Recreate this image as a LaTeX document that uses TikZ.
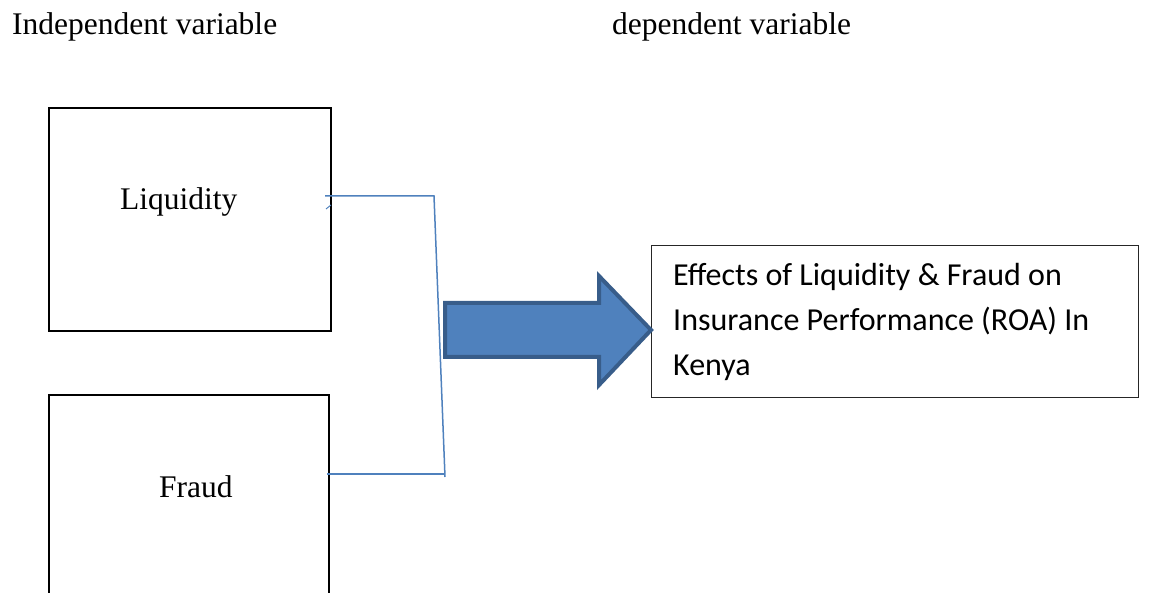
\documentclass[tikz,border=0pt]{standalone}
\usepackage{fontspec}
\setmainfont{Liberation Serif}
\newfontfamily\calib{Carlito}
\definecolor{offblue}{HTML}{4F81BD}
\definecolor{offblueD}{HTML}{385D8A}
\begin{document}
\begin{tikzpicture}[x=1pt,y=-1pt,
  varbox/.style={draw=black,line width=2pt,inner sep=0pt,anchor=north west},
  serif/.style={font=\fontsize{31.5}{38}\selectfont,inner sep=0pt,anchor=base west},
  link/.style={draw=offblue,line width=1.5pt}]
\useasboundingbox (0,0) rectangle (1151,593);
\clip (0,0) rectangle (1151,593);
\node[serif] (indep) at (12,35) {Independent variable};
\node[serif] (dep) at (612,35) {dependent variable};
\node[varbox,minimum width=282pt,minimum height=223pt] (liq) at (48,107) {};
\node[varbox,minimum width=280pt,minimum height=260pt] (fraud) at (48,394) {};
\node[serif] (liqt) at (120,210) {Liquidity};
\node[serif] (fraudt) at (159,497) {Fraud};
\node[draw=black!85,line width=1pt,inner sep=0pt,anchor=north west,minimum width=487pt,minimum height=152pt] (eff) at (651,245) {};
\node[font=\calib\fontsize{32}{45}\selectfont,inner sep=0pt,anchor=base west,align=left] (efft) at (673,376) {Effects of Liquidity \& Fraud on\\Insurance Performance (ROA) In\\Kenya};
\coordinate (a1) at (325,196);
\coordinate (j1) at (434,196);
\coordinate (j2) at (445,477);
\coordinate (a2) at (327,474);
\draw[link] (a1) -- (j1) -- (j2);
\draw[link] (a2) -- (445,474);
\draw[link,line width=1pt] (326,209) -- (331,205);
\draw[fill=offblue,draw=offblueD,line width=4pt,line join=miter]
  (445,303) -- (599,303) -- (599,276) -- (eff.west |- 0,330) -- (599,385) -- (599,357) -- (445,357) -- cycle;
\end{tikzpicture}
\end{document}
